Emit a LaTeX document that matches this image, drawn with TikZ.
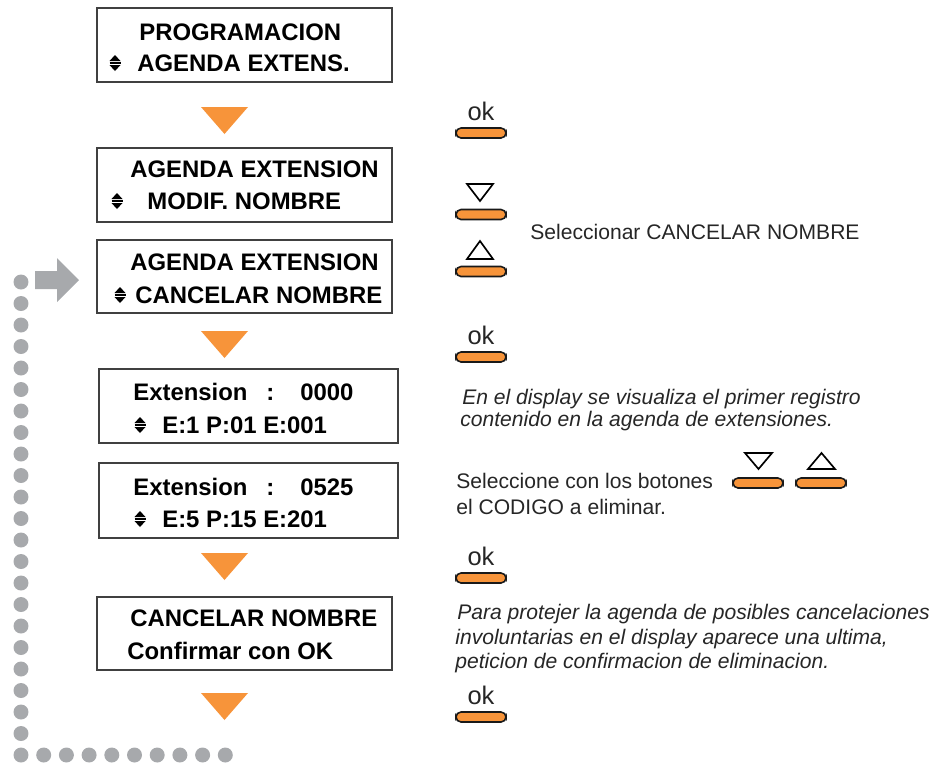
\documentclass[tikz,border=0pt]{standalone}
\usepackage{fontspec}
\setmainfont{Liberation Sans}
\usetikzlibrary{positioning}

\definecolor{keyorange}{RGB}{247,148,58}
\definecolor{dotgray}{RGB}{167,169,172}

\begin{document}
\begin{tikzpicture}[
    x=0.02cm, y=-0.02cm,
    lcd/.style={draw=black!75, line width=0.7pt},
    lcdtext/.style={anchor=west, inner sep=0pt, font=\bfseries\fontsize{13.6}{15}\selectfont, text height=9.7pt, text depth=0pt},
    note/.style={anchor=west, inner sep=0pt, font=\fontsize{12}{14}\selectfont, text=black!85, text height=8.6pt, text depth=0pt},
    slanted/.style={note, font=\itshape\fontsize{12}{14}\selectfont},
    pill/.style={draw=black!90, fill=keyorange, line width=0.9pt, rounded corners=0.1cm, minimum width=1.0cm, minimum height=0.2cm, inner sep=0pt},
    oklabel/.style={font=\fontsize{14.5}{16}\selectfont, inner sep=0pt, text=black!85},
    flowtri/.style={fill=keyorange},
    keytri/.style={draw=black, line width=0.95pt, line join=miter},
    dot/.style={fill=dotgray},
    updown/.pic={
        \fill (-5.5,-2) -- (5.5,-2) -- (0,-8) -- cycle;
        \draw[line width=0.6pt] (-5.5,0) -- (5.5,0);
        \fill (-5.5,2) -- (5.5,2) -- (0,8) -- cycle;
    }
]
\useasboundingbox (0,0) rectangle (946,765);

% Display boxes
\draw[lcd] (97,8) rectangle (392,82);
\draw[lcd] (97,148) rectangle (392,222);
\draw[lcd] (97,240) rectangle (392,313);
\draw[lcd] (99,369) rectangle (398,443);
\draw[lcd] (99,463) rectangle (398,538);
\draw[lcd] (97,597) rectangle (392,670);

% Display texts
\node[lcdtext] (prog) at (139,32) {PROGRAMACION};
\node[lcdtext] (agext) at (137,63) {AGENDA EXTENS.};
\pic at (115,63) {updown};
\node[lcdtext] (agA) at (130,169) {AGENDA EXTENSION};
\node[lcdtext] (modif) at (147,201) {MODIF. NOMBRE};
\pic at (117,201) {updown};
\node[lcdtext] (agB) at (130,262) {AGENDA EXTENSION};
\node[lcdtext] (cancel) at (135,295) {CANCELAR NOMBRE};
\pic at (120,295) {updown};
\node[lcdtext] (extA) at (133,392) {Extension};
\node[lcdtext] (colA) at (266,392) {:};
\node[lcdtext] (numA) at (300,392) {0000};
\pic at (140,425) {updown};
\node[lcdtext] (regA) at (162,425) {E:1 P:01 E:001};
\node[lcdtext] (extB) at (133,487) {Extension};
\node[lcdtext] (colB) at (266,487) {:};
\node[lcdtext] (numB) at (300,487) {0525};
\pic at (140,519) {updown};
\node[lcdtext] (regB) at (162,519) {E:5 P:15 E:201};
\node[lcdtext] (cancelC) at (130,618) {CANCELAR NOMBRE};
\node[lcdtext] (confirm) at (127,651) {Confirmar con OK};

% Orange flow triangles
\foreach \y in {107,331,553,693} {
    \fill[flowtri] (201,\y) -- (248,\y) -- (224.5,\y+27) -- cycle;
}

% ok keys
\foreach \y/\n in {133/A,357/B,578/C,717/D} {
    \node[pill] (pill\n) at (481,\y) {};
    \node[oklabel, above=0.12cm of pill\n] (ok\n) {ok};
}

% Down / up keys
\node[pill] (pilldown) at (481,214.5) {};
\draw[keytri] (467,184) -- (493,184) -- (480,201) -- cycle;
\node[pill] (pillup) at (481,271.5) {};
\draw[keytri] (467,259) -- (493,259) -- (480,241) -- cycle;
\node[pill] (pilldownB) at (758,483) {};
\draw[keytri] (745,453) -- (772,453) -- (758.5,469) -- cycle;
\node[pill] (pillupB) at (821,483) {};
\draw[keytri] (808,469) -- (835,469) -- (821.5,453) -- cycle;

% Notes
\node[note] (selcancel) at (530,232) {Seleccionar CANCELAR NOMBRE};
\node[slanted] (showA) at (462,397) {En el display se visualiza el primer registro};
\node[slanted] (showB) at (460,419) {contenido en la agenda de extensiones.};
\node[note] (pickA) at (456,481) {Seleccione con los botones};
\node[note] (pickB) at (456,507) {el CODIGO a eliminar.};
\node[slanted] (protA) at (457,612) {Para protejer la agenda de posibles cancelaciones};
\node[slanted] (protB) at (455,637) {involuntarias en el display aparece una ultima,};
\node[slanted] (protC) at (455,661) {peticion de confirmacion de eliminacion.};

% Dotted return path
\foreach \i in {0,...,22} {
    \fill[dot] (21,282+\i*21.5) circle[radius=0.15cm];
}
\foreach \i in {1,...,9} {
    \fill[dot] (21+\i*22.7,755) circle[radius=0.15cm];
}
\fill[dot] (35,271) -- (57,271) -- (57,258) -- (79,280) -- (57,302) -- (57,289) -- (35,289) -- cycle;

\end{tikzpicture}
\end{document}
